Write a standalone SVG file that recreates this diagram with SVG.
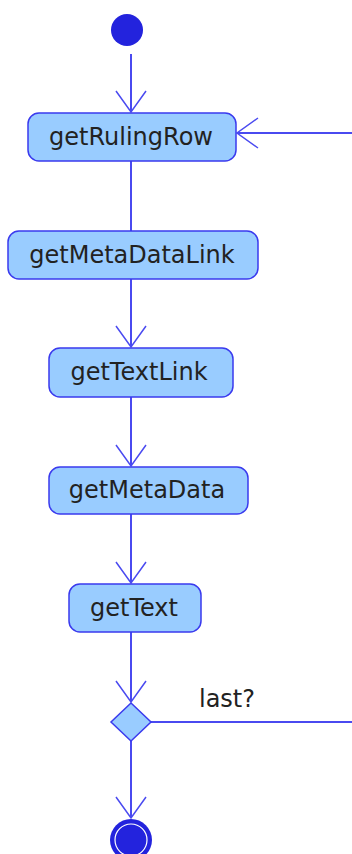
<svg xmlns="http://www.w3.org/2000/svg" width="352" height="854" viewBox="0 0 352 854">
  <style>
    .act { fill: #99ccff; stroke: #3a3aee; stroke-width: 1.5; }
    .lbl { font-family: "DejaVu Sans", Verdana, sans-serif; font-size: 24px; fill: #222222; text-anchor: middle; }
    .edge { fill: none; stroke: #4a4af0; stroke-width: 2; }
    .head { fill: none; stroke: #4a4af0; stroke-width: 1.5; }
  </style>
  <defs>
    <marker id="open" viewBox="0 0 24 32" refX="22" refY="16" markerWidth="24" markerHeight="32" markerUnits="userSpaceOnUse" orient="auto">
      <path class="head" d="M1,1 L22,16 L1,31"/>
    </marker>
  </defs>

  <rect width="352" height="854" fill="#ffffff"/>

  <!-- connectors -->
  <g id="edges">
    <line class="edge" x1="131" y1="54" x2="131" y2="112" marker-end="url(#open)"/>
    <line class="edge" x1="352" y1="133" x2="237" y2="133" marker-end="url(#open)"/>
    <line class="edge" x1="131" y1="161" x2="131" y2="231"/>
    <line class="edge" x1="131" y1="279" x2="131" y2="347" marker-end="url(#open)"/>
    <line class="edge" x1="131" y1="397" x2="131" y2="466" marker-end="url(#open)"/>
    <line class="edge" x1="131" y1="514" x2="131" y2="583" marker-end="url(#open)"/>
    <line class="edge" x1="131" y1="632" x2="131" y2="702" marker-end="url(#open)"/>
    <line class="edge" x1="151" y1="722" x2="352" y2="722"/>
    <line class="edge" x1="131" y1="741" x2="131" y2="818" marker-end="url(#open)"/>
    <text class="lbl" x="227" y="707">last?</text>
  </g>

  <g id="start">
    <circle cx="127" cy="30" r="16" fill="#2323dd"/>
  </g>

  <g id="getRulingRow">
    <rect class="act" x="28" y="113" width="208" height="48" rx="11"/>
    <text class="lbl" x="131" y="145">getRulingRow</text>
  </g>

  <g id="getMetaDataLink">
    <rect class="act" x="8" y="231" width="250" height="48" rx="11"/>
    <text class="lbl" x="132" y="263">getMetaDataLink</text>
  </g>

  <g id="getTextLink">
    <rect class="act" x="49" y="348" width="184" height="49" rx="11"/>
    <text class="lbl" x="139" y="380">getTextLink</text>
  </g>

  <g id="getMetaData">
    <rect class="act" x="49" y="467" width="199" height="47" rx="11"/>
    <text class="lbl" x="147" y="498">getMetaData</text>
  </g>

  <g id="getText">
    <rect class="act" x="69" y="584" width="132" height="48" rx="11"/>
    <text class="lbl" x="134" y="616">getText</text>
  </g>

  <g id="decision">
    <polygon class="act" points="131,703 151,722 131,741 111,722"/>
  </g>

  <g id="end">
    <circle cx="131" cy="840" r="21" fill="#2323dd"/>
    <circle cx="131" cy="840" r="16" fill="none" stroke="#ffffff" stroke-width="1.2"/>
  </g>
</svg>
